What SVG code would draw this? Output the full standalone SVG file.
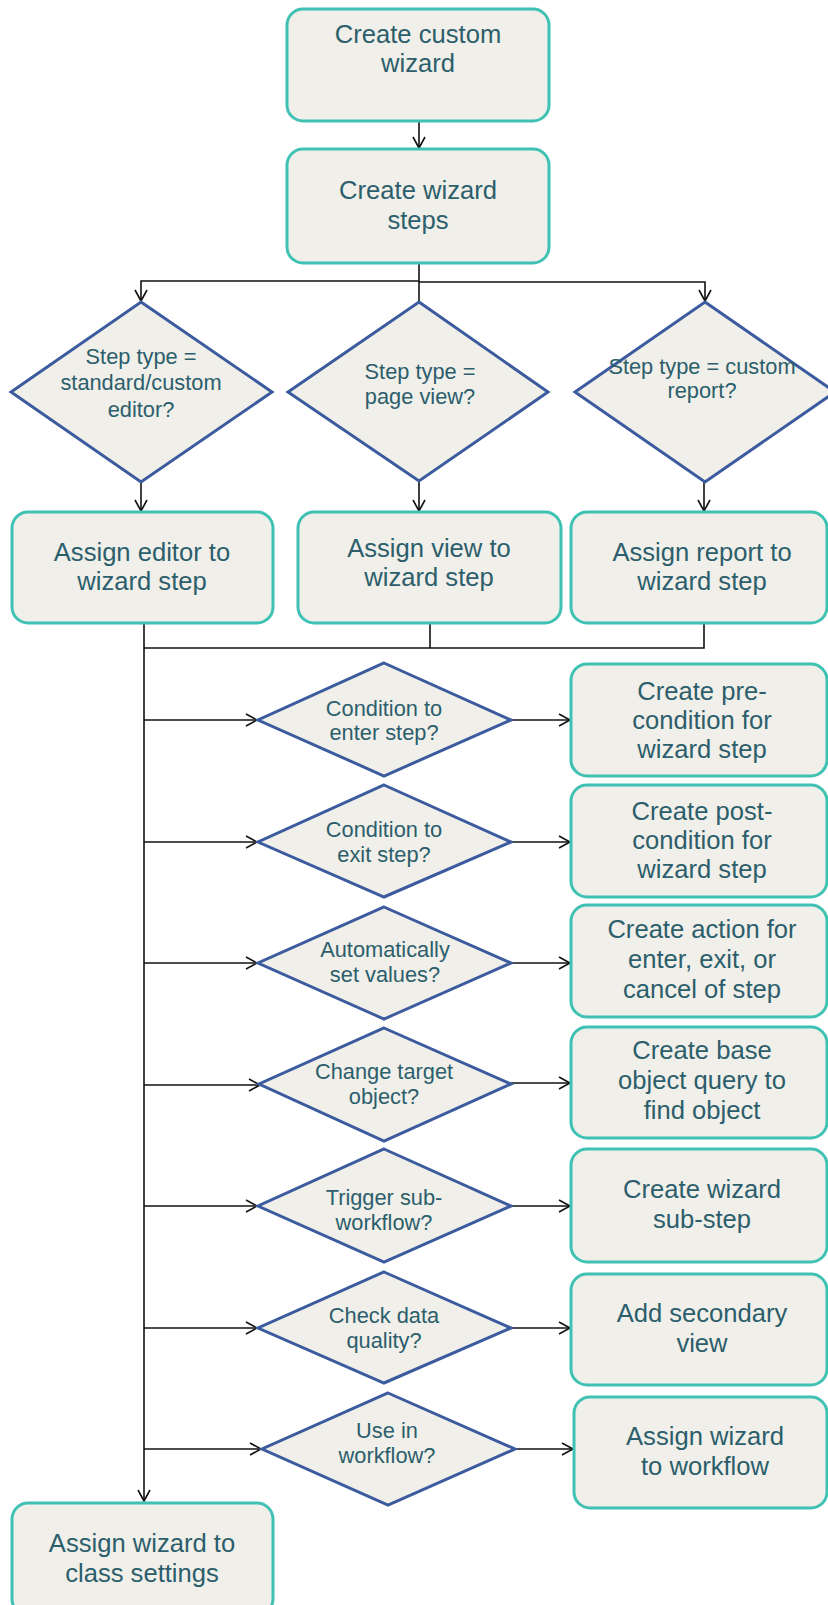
<svg xmlns="http://www.w3.org/2000/svg" width="828" height="1605" viewBox="0 0 828 1605">
<defs>
<style>
.box{fill:#f0efe9;stroke:#3fc1b4;stroke-width:3}
.dia{fill:#f0efe9;stroke:#3b5b9e;stroke-width:3}
.t{font-family:"Liberation Sans",Arial,sans-serif;font-size:25.6px;fill:#2c5e6c;text-anchor:middle}
.d{font-family:"Liberation Sans",Arial,sans-serif;font-size:21.8px;fill:#2c5e6c;text-anchor:middle}
.c{fill:none;stroke:#111;stroke-width:1.6}
</style>
<marker id="ah" markerUnits="userSpaceOnUse" markerWidth="16" markerHeight="16" refX="12" refY="7" orient="auto">
<path d="M1,1 L12,7 L1,13" fill="none" stroke="#111" stroke-width="1.6"/>
</marker>
</defs>
<rect width="828" height="1605" fill="#fff"/>
<g id="connectors">
<path class="c" d="M419,121 V148" marker-end="url(#ah)"/>
<path class="c" d="M419,263 V302"/>
<path class="c" d="M419,281 H141 V301" marker-end="url(#ah)"/>
<path class="c" d="M419,282 H705 V301" marker-end="url(#ah)"/>
<path class="c" d="M141,482 V511" marker-end="url(#ah)"/>
<path class="c" d="M419,481 V511" marker-end="url(#ah)"/>
<path class="c" d="M704,482 V511" marker-end="url(#ah)"/>
<path class="c" d="M144,623 V1501" marker-end="url(#ah)"/>
<path class="c" d="M430,623 V648"/>
<path class="c" d="M704,623 V648 H144"/>
<path class="c" d="M144,720 H257" marker-end="url(#ah)"/>
<path class="c" d="M511,720 H570" marker-end="url(#ah)"/>
<path class="c" d="M144,842 H257" marker-end="url(#ah)"/>
<path class="c" d="M511,842 H570" marker-end="url(#ah)"/>
<path class="c" d="M144,963 H257" marker-end="url(#ah)"/>
<path class="c" d="M511,963 H570" marker-end="url(#ah)"/>
<path class="c" d="M144,1085 H260" marker-end="url(#ah)"/>
<path class="c" d="M511,1083 H570" marker-end="url(#ah)"/>
<path class="c" d="M144,1206 H257" marker-end="url(#ah)"/>
<path class="c" d="M511,1206 H570" marker-end="url(#ah)"/>
<path class="c" d="M144,1328 H257" marker-end="url(#ah)"/>
<path class="c" d="M511,1328 H570" marker-end="url(#ah)"/>
<path class="c" d="M144,1449 H261" marker-end="url(#ah)"/>
<path class="c" d="M515,1449 H573" marker-end="url(#ah)"/>
</g>
<g id="n1"><rect class="box" x="287" y="9" width="262" height="112" rx="16"/><text class="t" x="418" y="43">Create custom</text><text class="t" x="418" y="72">wizard</text></g>
<g id="n2"><rect class="box" x="287" y="149" width="262" height="114" rx="16"/><text class="t" x="418" y="199">Create wizard</text><text class="t" x="418" y="229">steps</text></g>
<g id="d1"><polygon class="dia" points="141,302 272,392 141,482 11,392"/><text class="d" x="141" y="364">Step type =</text><text class="d" x="141" y="390">standard/custom</text><text class="d" x="141" y="417">editor?</text></g>
<g id="d2"><polygon class="dia" points="419,302 548,392 419,481 288,392"/><text class="d" x="420" y="379">Step type  =</text><text class="d" x="420" y="404">page view?</text></g>
<g id="d3"><polygon class="dia" points="705,302 835,392 705,482 575,392"/><text class="d" x="702" y="374">Step type = custom</text><text class="d" x="702" y="398">report?</text></g>
<g id="n3"><rect class="box" x="12" y="512" width="261" height="111" rx="16"/><text class="t" x="142" y="561">Assign editor to</text><text class="t" x="142" y="590">wizard step</text></g>
<g id="n4"><rect class="box" x="298" y="512" width="263" height="111" rx="16"/><text class="t" x="429" y="557">Assign view to</text><text class="t" x="429" y="586">wizard step</text></g>
<g id="n5"><rect class="box" x="571" y="512" width="256" height="111" rx="16"/><text class="t" x="702" y="561">Assign report to</text><text class="t" x="702" y="590">wizard step</text></g>
<g id="d4"><polygon class="dia" points="384,663 511,720 384,776 258,720"/><text class="d" x="384" y="716">Condition to</text><text class="d" x="384" y="740">enter step?</text></g>
<g id="n6"><rect class="box" x="571" y="664" width="256" height="112" rx="16"/><text class="t" x="702" y="700">Create pre-</text><text class="t" x="702" y="729">condition for</text><text class="t" x="702" y="758">wizard step</text></g>
<g id="d5"><polygon class="dia" points="384,785 511,842 384,897 258,842"/><text class="d" x="384" y="837">Condition to</text><text class="d" x="384" y="862">exit step?</text></g>
<g id="n7"><rect class="box" x="571" y="785" width="256" height="112" rx="16"/><text class="t" x="702" y="820">Create post-</text><text class="t" x="702" y="849">condition for</text><text class="t" x="702" y="878">wizard step</text></g>
<g id="d6"><polygon class="dia" points="384,907 511,963 384,1019 258,963"/><text class="d" x="385" y="957">Automatically</text><text class="d" x="385" y="982">set values?</text></g>
<g id="n8"><rect class="box" x="571" y="905" width="256" height="112" rx="16"/><text class="t" x="702" y="938">Create action for</text><text class="t" x="702" y="968">enter, exit, or</text><text class="t" x="702" y="998">cancel of step</text></g>
<g id="d7"><polygon class="dia" points="384,1028 511,1084 384,1141 259,1084"/><text class="d" x="384" y="1079">Change target</text><text class="d" x="384" y="1104">object?</text></g>
<g id="n9"><rect class="box" x="571" y="1027" width="256" height="111" rx="16"/><text class="t" x="702" y="1059">Create base</text><text class="t" x="702" y="1089">object query to</text><text class="t" x="702" y="1119">find object</text></g>
<g id="d8"><polygon class="dia" points="384,1149 511,1206 384,1262 258,1206"/><text class="d" x="384" y="1205">Trigger sub-</text><text class="d" x="384" y="1230">workflow?</text></g>
<g id="n10"><rect class="box" x="571" y="1149" width="256" height="113" rx="16"/><text class="t" x="702" y="1198">Create wizard</text><text class="t" x="702" y="1228">sub-step</text></g>
<g id="d9"><polygon class="dia" points="384,1272 511,1328 384,1383 258,1328"/><text class="d" x="384" y="1323">Check data</text><text class="d" x="384" y="1348">quality?</text></g>
<g id="n11"><rect class="box" x="571" y="1274" width="256" height="111" rx="16"/><text class="t" x="702" y="1322">Add secondary</text><text class="t" x="702" y="1352">view</text></g>
<g id="d10"><polygon class="dia" points="388,1393 515,1449 388,1505 262,1449"/><text class="d" x="387" y="1438">Use in</text><text class="d" x="387" y="1463">workflow?</text></g>
<g id="n12"><rect class="box" x="574" y="1397" width="253" height="111" rx="16"/><text class="t" x="705" y="1445">Assign wizard</text><text class="t" x="705" y="1475">to workflow</text></g>
<g id="n13"><rect class="box" x="12" y="1503" width="261" height="112" rx="16"/><text class="t" x="142" y="1552">Assign wizard to</text><text class="t" x="142" y="1582">class settings</text></g>
</svg>
